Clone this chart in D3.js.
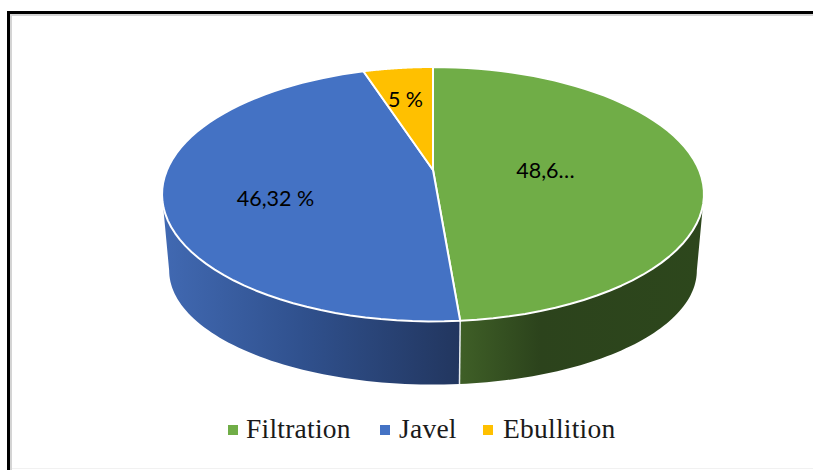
<!DOCTYPE html>
<html>
<head>
<meta charset="utf-8">
<script src="https://cdn.jsdelivr.net/npm/d3@7/dist/d3.min.js"></script>
<style>
html, body { margin: 0; padding: 0; background: #fff; }
svg { display: block; }
</style>
</head>
<body>
<svg id="chart" width="813" height="470"></svg>
<script>
const categories = ["Filtration", "Javel", "Ebullition"];
const shares = [48.68, 46.32, 5];
const sliceLabels = ["48,6…", "46,32 %", "5 %"];
const topColors = ["#70ad47", "#4472c4", "#ffc000"];

const svg = d3.select("#chart");
const defs = svg.append("defs");

// Card frame: black outer edge with a soft grey inner edge
svg.append("rect").attr("x", 8.5).attr("y", 12.5).attr("width", 830).attr("height", 480)
  .attr("fill", "#fff").attr("stroke", "#000").attr("stroke-width", 3);
svg.append("path").attr("d", "M11,470V15H813").attr("fill", "none").attr("stroke", "#d4d4d4").attr("stroke-width", 2);
svg.append("path").attr("d", "M12,468.5H813").attr("fill", "none").attr("stroke", "#f1f1f1").attr("stroke-width", 1);

// Perspective projection of a unit disc onto the page
const tilt = -0.1906;
function projector(cx, cy, sx, sy) {
  return a => {
    const u = Math.sin(a), v = -Math.cos(a), w = 1 + tilt * v;
    return [cx + sx * u / w, cy + sy * v / w];
  };
}
const topCenter = [433, 170];
const topRim = projector(topCenter[0], topCenter[1], 266, 122.6);
const baseRim = projector(433, 248.7, 259, 110);

const pie = d3.pie().sort(null).value(d => d)(shares);
const sweep = (a0, a1) => d3.range(0, 61).map(i => a0 + (a1 - a0) * i / 60);
const line = d3.line();

// Side walls run from the seam out to the silhouette of the disc
const silhouette = Math.acos(tilt);
const seam = pie[0].endAngle;
const wallRanges = [[silhouette, seam], [seam, 2 * Math.PI - silhouette]];
const wallGradients = [
  [[460, "#3f5f27"], [480, "#3a5824"], [540, "#2c431c"], [704, "#2d471c"]],
  [[163, "#4169b2"], [300, "#30518e"], [460, "#22365f"]],
];
wallGradients.forEach((stops, i) => {
  const x = d3.scaleLinear().domain([stops[0][0], stops[stops.length - 1][0]]).range([0, 1]);
  const g = defs.append("linearGradient").attr("id", "wall" + i)
    .attr("gradientUnits", "userSpaceOnUse")
    .attr("x1", stops[0][0]).attr("x2", stops[stops.length - 1][0]).attr("y1", 0).attr("y2", 0);
  stops.forEach(s => g.append("stop").attr("offset", x(s[0])).attr("stop-color", s[1]));
});
wallRanges.forEach(([a0, a1], i) => {
  const angles = sweep(a0, a1);
  const pts = angles.map(topRim).concat(angles.slice().reverse().map(baseRim));
  svg.append("path").attr("d", line(pts) + "Z").attr("fill", `url(#wall${i})`);
});
// Seam between the two visible walls
svg.append("path").attr("d", line([topRim(seam), baseRim(seam)]))
  .attr("stroke", "#e8ecf0").attr("stroke-width", 1.5).attr("fill", "none");

// Top face
pie.forEach((d, i) => {
  const pts = [topCenter].concat(sweep(d.startAngle, d.endAngle).map(topRim));
  svg.append("path").attr("d", line(pts) + "Z")
    .attr("fill", topColors[i]).attr("stroke", "#fff").attr("stroke-width", 2).attr("stroke-linejoin", "round");
});

// Slice labels
const labelPos = [[545.5, 170], [275.5, 198], [405.5, 99]];
sliceLabels.forEach((t, i) => {
  svg.append("text").attr("x", labelPos[i][0]).attr("y", labelPos[i][1]).attr("dy", "0.35em")
    .attr("text-anchor", "middle").attr("font-family", "Lato, 'Open Sans', sans-serif")
    .attr("font-size", 21.5).attr("fill", "#000").text(t);
});

// Legend
const legendSwatch = [228, 380, 483];
const legendText = [246, 399, 503];
categories.forEach((c, i) => {
  svg.append("rect").attr("x", legendSwatch[i]).attr("y", 425).attr("width", 10).attr("height", 10).attr("fill", topColors[i]);
  svg.append("text").attr("x", legendText[i]).attr("y", 438)
    .attr("font-family", "'Liberation Serif', serif").attr("font-size", 27.5)
    .attr("letter-spacing", 0.25).attr("fill", "#1a1a1a").text(c);
});
</script>
</body>
</html>
